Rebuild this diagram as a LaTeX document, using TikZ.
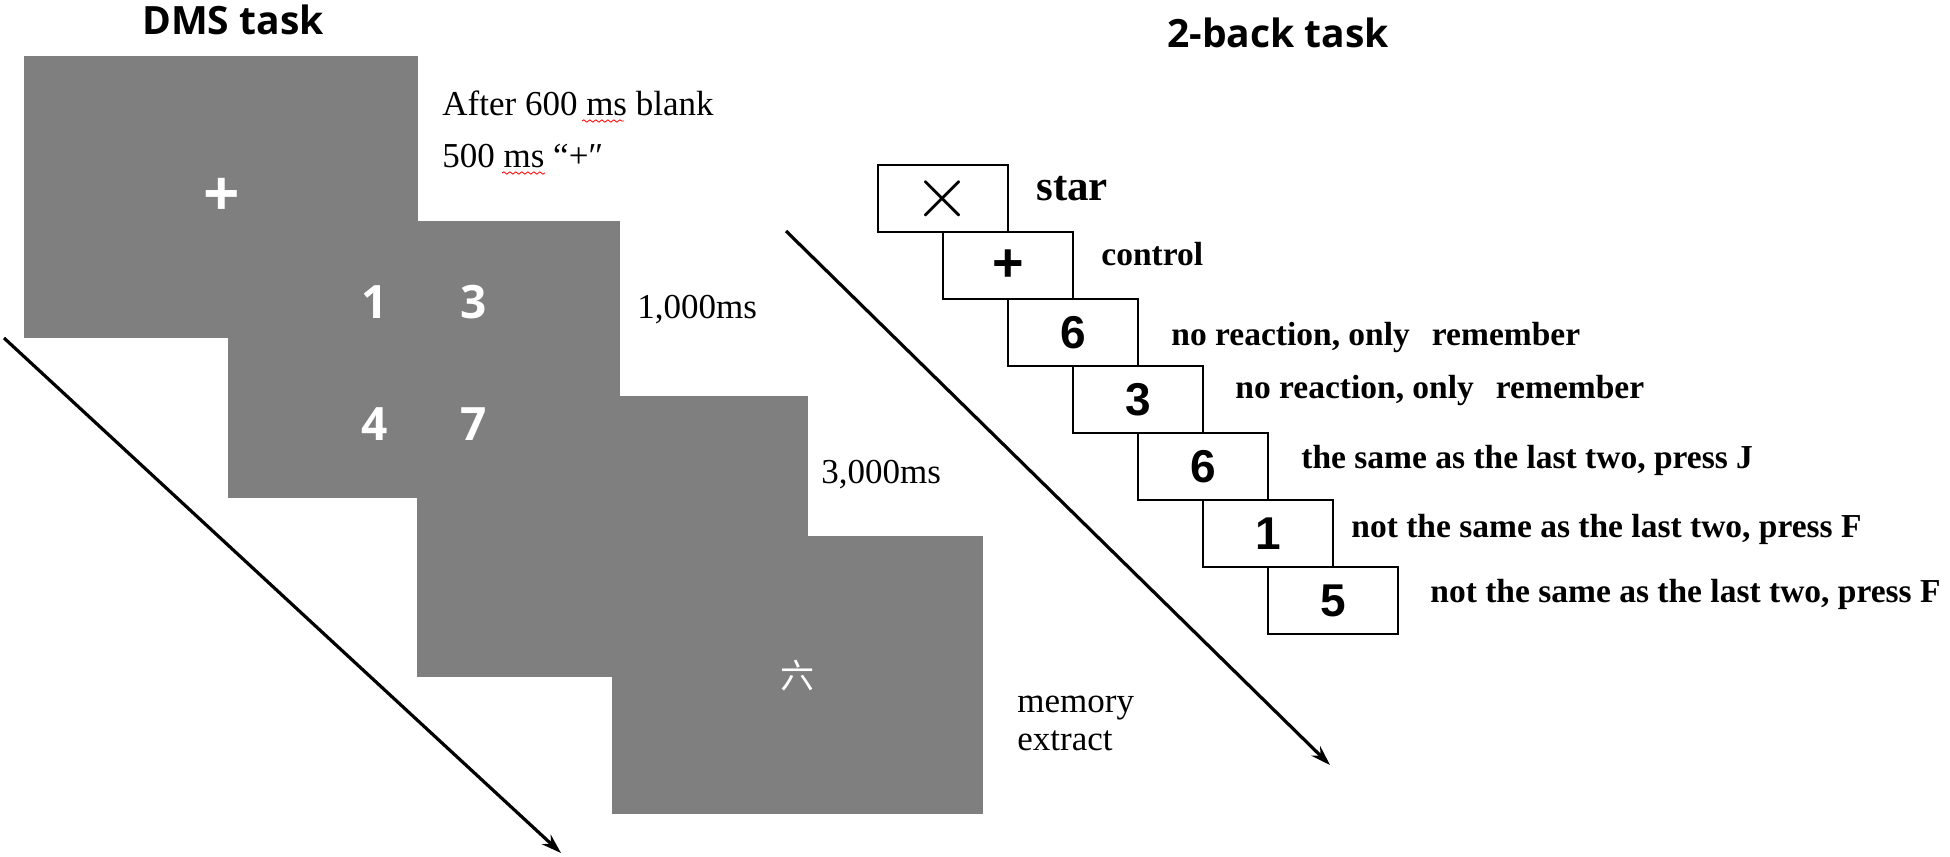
\documentclass[tikz,border=0pt]{standalone}
\usepackage{fontspec}
\setmainfont{Liberation Serif}
\newfontfamily\headfont{Open Sans}
\newfontfamily\numfont{Liberation Sans}
\newfontfamily\cjkfont{Noto Sans CJK SC}
\usetikzlibrary{arrows.meta,decorations.pathmorphing}
\definecolor{screengray}{RGB}{127,127,127}
\tikzset{
  screen/.style={rectangle,fill=screengray,anchor=north west,inner sep=0pt},
  card/.style={draw,rectangle,line width=1pt,anchor=north west,inner sep=0pt,
    minimum width=65pt,minimum height=33.5pt,font=\numfont\bfseries\fontsize{23}{24}\selectfont},
  note/.style={anchor=base west,inner sep=0pt,font=\fontsize{17.5}{20}\selectfont},
  cue/.style={anchor=base west,inner sep=0pt,font=\bfseries\fontsize{16.75}{19}\selectfont},
  title/.style={inner sep=0pt,font=\headfont\bfseries\fontsize{19.5}{22}\selectfont},
  digit/.style={inner sep=0pt,text=white,font=\headfont\bfseries\fontsize{23}{24}\selectfont},
  timeline/.style={line width=1.6pt,-{Stealth[length=10pt,width=6.5pt]}},
  typo/.style={red,line width=0.4pt,decorate,decoration={snake,amplitude=0.6pt,segment length=3pt}}
}
\begin{document}
\begin{tikzpicture}[x=0.5pt,y=-0.5pt]
\useasboundingbox (0,0) rectangle (1950,857);

% DMS task
\node [title] (dmstitle) at(233,20){DMS task};

\node [screen,minimum width=197pt,minimum height=141pt,text=white,
  font=\headfont\bfseries\fontsize{32}{34}\selectfont] (fix) at(24,56){+};
\node [screen,minimum width=196pt,minimum height=138.5pt] (memset) at(228,221){};
\node [screen,minimum width=195.5pt,minimum height=140.5pt] (delay) at(417,396){};
\node [screen,minimum width=185.5pt,minimum height=139pt,text=white,
  font=\cjkfont\fontsize{17}{19}\selectfont] (probe) at(612,536){六};

\node [digit] (one) at(375,302){1};
\node [digit] (three) at(474,302){3};
\node [digit] (four) at(375,424){4};
\node [digit] (seven) at(474,424){7};

\node [note] (blank) at(442,115){After 600 ms blank};
\node [note] (cross) at(442,167){500 ms “+″};
\node [note] (onesec) at(637,318){1,000ms};
\node [note] (threesec) at(821,483){3,000ms};
\node [note] (memory) at(1017,712){memory};
\node [note] (extract) at(1017,750){extract};

\draw [typo] (582,121) -- (624,121);
\draw [typo] (502,173) -- (545,173);

\coordinate (dmsfrom) at(4,338);
\coordinate (dmsto) at(561,853);
\draw [timeline] (dmsfrom) -- (dmsto);

% 2-back task
\node [title] (backtitle) at(1278,33){2-back task};

\node [card] (c0) at(877,164){\scalebox{1.5}{$\times$}};
\node [card,font=\numfont\bfseries\fontsize{27}{28}\selectfont] (c1) at(942,231){+};
\node [card] (c2) at(1007,298){6};
\node [card] (c3) at(1072,365){3};
\node [card] (c4) at(1137,432){6};
\node [card] (c5) at(1202,499){1};
\node [card] (c6) at(1267,566){5};

\node [cue,font=\bfseries\fontsize{21.5}{24}\selectfont] (l0) at(1036,200){star};
\node [cue] (l1) at(1101,265){control};
\node [cue] (l2) at(1171,345){no reaction, only\hspace{11pt}remember};
\node [cue] (l3) at(1235,398){no reaction, only\hspace{11pt}remember};
\node [cue] (l4) at(1301,468){the same as the last two, press J};
\node [cue] (l5) at(1351,537){not the same as the last two, press F};
\node [cue] (l6) at(1430,602){not the same as the last two, press F};

\coordinate (backfrom) at(786,231);
\coordinate (backto) at(1330,765);
\draw [timeline] (backfrom) -- (backto);
\end{tikzpicture}
\end{document}
